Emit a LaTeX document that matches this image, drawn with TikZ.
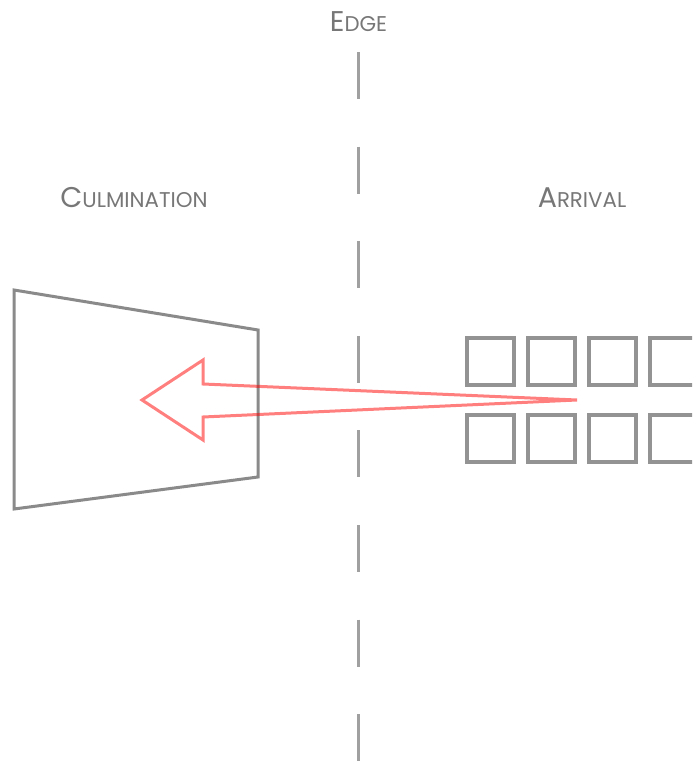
\documentclass[tikz,border=0pt]{standalone}
\usepackage{fontspec}
\newfontfamily\lblfont{Poppins}
\newcommand\fakesc[2]{{\fontsize{21.4}{22}\selectfont #1}{\fontsize{16}{18}\selectfont #2}}
\definecolor{txtgray}{HTML}{777777}
\definecolor{linegray}{HTML}{8A8A8A}
\definecolor{dashgray}{HTML}{A0A0A0}
\definecolor{boxgray}{HTML}{939393}
\tikzset{
  lbl/.style={font=\lblfont, text=txtgray, anchor=base, inner sep=0pt},
  cell/.style={draw=boxgray, line width=3pt, minimum size=35.25pt, inner sep=0pt},
  fatarrow/.style={draw=red, draw opacity=0.5, line width=2.25pt, line join=miter},
  edgeline/.style={draw=dashgray, line width=2.25pt, dash pattern=on 35.25pt off 35.7pt},
  trap/.style={draw=linegray, line width=2.25pt, line join=miter}
}
\begin{document}
\begin{tikzpicture}[x=0.75pt,y=-0.75pt]
\useasboundingbox (0,0) rectangle (692,762);
\clip (0,0) rectangle (692,762);
% labels
\node[lbl] (edge) at (358.5,32) {\fakesc{E}{DGE}};
\node[lbl] (culm) at (134,208) {\fakesc{C}{ULMINATION}};
\node[lbl] (arr) at (582,208) {\fakesc{A}{RRIVAL}};
% dashed edge line
\coordinate (etop) at (358,52);
\coordinate (ebot) at (358,762);
\draw[edgeline] (etop) -- (ebot);
% trapezoid
\coordinate (t1) at (14,290);
\coordinate (t2) at (258,330);
\coordinate (t3) at (258,477);
\coordinate (t4) at (14,509);
\draw[trap] (t1) -- (t2) -- (t3) -- (t4) -- cycle;
% squares
\foreach \i/\x in {1/490.5,2/551.5,3/612.5,4/673.5}{
  \node[cell] (sa\i) at (\x,361) {};
  \node[cell] (sb\i) at (\x,438.5) {};
}
% arrow
\coordinate (tip) at (142,400);
\coordinate (ht) at (203,360);
\coordinate (st) at (203,384);
\coordinate (src) at (577,400);
\coordinate (sb) at (203,417);
\coordinate (hb) at (203,440);
\draw[fatarrow] (tip) -- (ht) -- (st) -- (src) -- (sb) -- (hb) -- cycle;
\end{tikzpicture}
\end{document}
